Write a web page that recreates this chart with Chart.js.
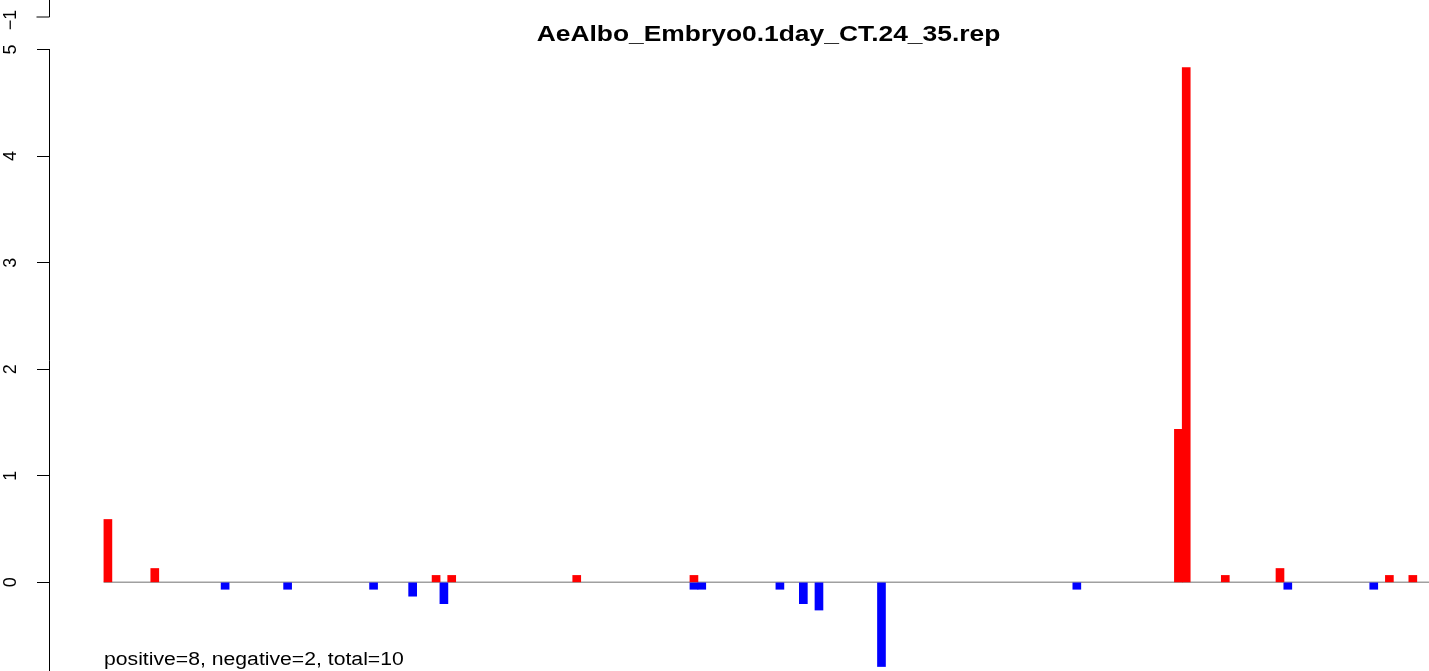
<!DOCTYPE html>
<html>
<head>
<meta charset="utf-8">
<script src="https://cdn.jsdelivr.net/npm/chart.js@4"></script>
<style>
  body { margin: 0; background: #fff; }
  canvas { display: block; }
</style>
</head>
<body>
<canvas id="chartCanvas" width="1429" height="671"></canvas>
<script>
// data: slot index of each bar + its height
const chartTitle = "AeAlbo_Embryo0.1day_CT.24_35.rep"
const noteText = "positive=8, negative=2, total=10"

const posSlots  = [0, 6, 42, 44, 60, 75, 137, 138, 143, 150, 164, 167]
const posValues = [0.59, 0.13, 0.065, 0.065, 0.065, 0.065, 1.435, 4.83, 0.065, 0.13, 0.065, 0.065]

const negSlots  = [15, 23, 34, 39, 43, 75, 76, 86, 89, 91, 99, 124, 151, 162]
const negValues = [-0.065, -0.065, -0.065, -0.13, -0.2, -0.065, -0.065, -0.065, -0.2, -0.26, -0.79, -0.065, -0.065, -0.065]

const yTicks = [0, 1, 2, 3, 4, 5]

// turn slot/value lists into points for Chart.js
function toPoints(slots, values) {
    return slots.map((s, i) => ({x: s, y: values[i]}))
}

// the original text looks a bit wider than normal Arial, so stretch it
function wideText(c, txt, x, y, stretch) {
    c.save()
    c.translate(x, y)
    c.scale(stretch, 1)
    c.fillText(txt, 0, 0)
    c.restore()
}

// extra drawing in R style: partial axis line, zero line, title, note
const rStyle = {
    id: "rStyle",
    beforeDatasetsDraw(chart) {
        const c = chart.ctx
        const xs = chart.scales.x, ys = chart.scales.y
        const y0 = ys.getPixelForValue(0)
        c.save()
        c.strokeStyle = "#a0a0a0"
        c.lineWidth = 1.5
        c.beginPath()
        c.moveTo(xs.getPixelForValue(-0.55), y0)
        c.lineTo(chart.width, y0)
        c.stroke()
        c.restore()
    },
    afterDraw(chart) {
        const c = chart.ctx
        const ys = chart.scales.y
        const ax = ys.right - 0.5
        c.save()
        c.strokeStyle = "#000"
        c.lineWidth = 1
        // main axis line, from top tick down
        c.beginPath()
        c.moveTo(ax, ys.getPixelForValue(yTicks[yTicks.length - 1]))
        c.lineTo(ax, chart.height)
        c.stroke()
        // the stray "-1" piece at the very top
        c.beginPath()
        c.moveTo(ax, 0)
        c.lineTo(ax, 17)
        c.lineTo(ax - 13, 17)
        c.stroke()
        c.fillStyle = "#000"
        c.font = "18px 'Liberation Sans', Arial, sans-serif"
        c.translate(11, 20)
        c.rotate(-Math.PI / 2)
        c.textAlign = "center"
        c.textBaseline = "middle"
        c.fillText("\u22121", 0, 0)
        c.restore()

        c.save()
        c.fillStyle = "#000"
        c.textAlign = "center"
        c.textBaseline = "alphabetic"
        c.font = "bold 22px 'Liberation Sans', Arial, sans-serif"
        wideText(c, chartTitle, 768.5, 40.5, 1.2)
        c.textAlign = "left"
        c.font = "18px 'Liberation Sans', Arial, sans-serif"
        wideText(c, noteText, 104, 665, 1.177)
        c.restore()
    }
}

const ctx = document.getElementById("chartCanvas")
const myChart = new Chart(ctx, {
    type: "bar",
    data: {
        datasets: [
            {label: "positive", data: toPoints(posSlots, posValues), backgroundColor: "#ff0000", grouped: false},
            {label: "negative", data: toPoints(negSlots, negValues), backgroundColor: "#0000ff", grouped: false}
        ]
    },
    options: {
        responsive: false,
        animation: false,
        layout: {padding: 0},
        plugins: {legend: {display: false}, tooltip: {enabled: false}, title: {display: false}},
        datasets: {bar: {barThickness: 8, borderWidth: 0}},
        scales: {
            x: {type: "linear", display: false, min: -7.41, max: 169.07, offset: false},
            y: {
                type: "linear",
                min: -0.832, max: 5.465,
                afterFit: s => {
                    s.width = 50
                    s.paddingTop = 0
                    s.paddingBottom = 0
                },
                afterBuildTicks: s => { s.ticks = yTicks.map(v => ({value: v})) },
                border: {display: false},
                grid: {drawOnChartArea: false, tickLength: 13, color: "#000", tickWidth: 1},
                ticks: {
                    minRotation: 90, maxRotation: 90,
                    crossAlign: "center",
                    padding: 21,
                    color: "#000",
                    font: {family: "'Liberation Sans', Arial, sans-serif", size: 18}
                }
            }
        }
    },
    plugins: [rStyle]
})
</script>
</body>
</html>
